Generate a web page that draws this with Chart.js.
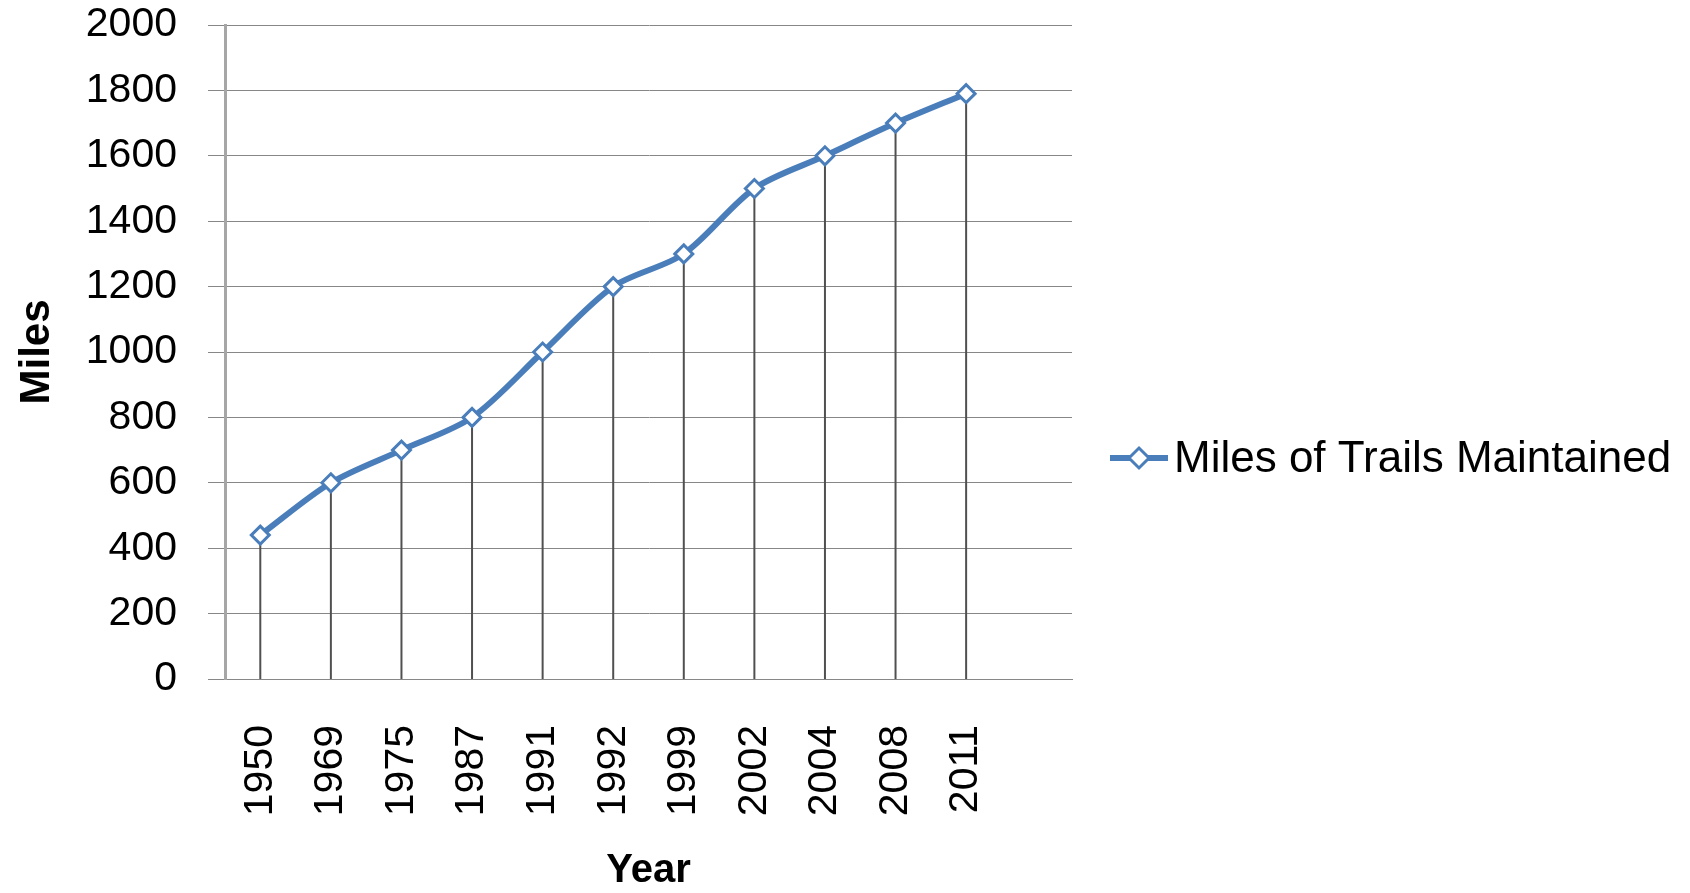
<!DOCTYPE html>
<html lang="en">
<head>
    <meta charset="UTF-8">
    <title>Miles of Trails Maintained</title>
    <style>
        html, body { margin: 0; padding: 0; background: #fff; }
        #chartFrame { width: 1690px; height: 893px; }
    </style>
</head>
<body>
    <div id="chartFrame">
        <canvas id="chart" width="1690" height="893"></canvas>
    </div>

    <script src="https://cdn.jsdelivr.net/npm/chart.js"></script>
    <script>
        // data
        const years = ['1950', '1969', '1975', '1987', '1991', '1992', '1999', '2002', '2004', '2008', '2011'];
        const miles = [440, 600, 700, 800, 1000, 1200, 1300, 1500, 1600, 1700, 1790];
        const yMin = 0;
        const yMax = 2000;
        const yStep = 200;
        const seriesName = 'Miles of Trails Maintained';

        const blue = '#4a7ebb';
        const fontFamily = "'Liberation Sans', Arial, sans-serif";

        function drawDiamond(c, cx, cy, r) {
            c.beginPath();
            c.moveTo(cx - r, cy);
            c.lineTo(cx, cy - r);
            c.lineTo(cx + r, cy);
            c.lineTo(cx, cy + r);
            c.closePath();
            c.fillStyle = '#fff';
            c.fill();
            c.stroke();
        }

        // vertical drop lines from each point down to the zero line
        const dropLines = {
            id: 'dropLines',
            beforeDatasetsDraw(chart) {
                const ctx = chart.ctx;
                const meta = chart.getDatasetMeta(0);
                const base = chart.scales.y.getPixelForValue(0);
                ctx.save();
                ctx.strokeStyle = '#505050';
                ctx.lineWidth = 2;
                meta.data.forEach(function (pt) {
                    ctx.beginPath();
                    ctx.moveTo(pt.x, pt.y);
                    ctx.lineTo(pt.x, base);
                    ctx.stroke();
                });
                ctx.restore();
            }
        };

        // legend to the right of the plot (line + diamond marker, then the series name)
        const sideLegend = {
            id: 'sideLegend',
            afterDraw(chart) {
                const ctx = chart.ctx;
                const area = chart.chartArea;
                const ds = chart.data.datasets[0];
                const x0 = area.right + 38;
                const y = 458;
                ctx.save();
                ctx.strokeStyle = ds.borderColor;
                ctx.lineWidth = 6;
                ctx.beginPath();
                ctx.moveTo(x0, y);
                ctx.lineTo(x0 + 58, y);
                ctx.stroke();
                ctx.lineWidth = 3;
                drawDiamond(ctx, x0 + 29, y, 10);
                ctx.fillStyle = '#000';
                ctx.font = '44px ' + fontFamily;
                ctx.textAlign = 'left';
                ctx.textBaseline = 'alphabetic';
                ctx.fillText(ds.label, x0 + 64, 472);
                ctx.restore();
            }
        };

        const ctx = document.getElementById('chart').getContext('2d');
        const myChart = new Chart(ctx, {
            type: 'line',
            data: {
                labels: years.concat(['']),   // one empty slot on the right, as in the original
                datasets: [{
                    label: seriesName,
                    data: miles,
                    borderColor: blue,
                    backgroundColor: blue,
                    borderWidth: 6,
                    tension: 0.3,
                    fill: false,
                    pointStyle: 'rectRot',
                    pointRadius: 9,
                    pointBorderWidth: 3,
                    pointBackgroundColor: '#fff',
                    pointBorderColor: blue
                }]
            },
            options: {
                responsive: false,
                animation: false,
                devicePixelRatio: 1,
                layout: {
                    padding: { left: 0, top: 0, right: 618, bottom: 0 }
                },
                scales: {
                    x: {
                        type: 'category',
                        offset: true,
                        grid: { display: false, drawTicks: false },
                        border: { display: true, color: '#878787', width: 1 },
                        ticks: {
                            autoSkip: false,
                            minRotation: 90,
                            maxRotation: 90,
                            padding: 46,
                            color: '#000',
                            font: { family: fontFamily, size: 41 }
                        },
                        title: {
                            display: true,
                            text: 'Year',
                            color: '#000',
                            font: { family: fontFamily, size: 40, weight: 'bold', lineHeight: 1 },
                            padding: { top: 34, bottom: 2 }
                        },
                        afterFit(scale) { scale.height = 214; }
                    },
                    y: {
                        min: yMin,
                        max: yMax,
                        grid: { color: '#878787', lineWidth: 1, drawTicks: true, tickLength: 17 },
                        border: { display: true, color: '#a6a6a6', width: 3 },
                        ticks: {
                            stepSize: yStep,
                            padding: 31,
                            color: '#000',
                            font: { family: fontFamily, size: 41 },
                            callback: function (value) { return String(value); }
                        },
                        title: {
                            display: true,
                            text: 'Miles',
                            color: '#000',
                            font: { family: fontFamily, size: 42, weight: 'bold', lineHeight: 1 },
                            padding: { top: 16, bottom: 28 }
                        },
                        afterFit(scale) {
                            scale.width = 225;
                            scale.paddingTop = 25;
                            scale.paddingBottom = 25;
                        }
                    }
                },
                plugins: {
                    legend: { display: false },
                    tooltip: { enabled: false }
                }
            },
            plugins: [dropLines, sideLegend]
        });
    </script>
</body>
</html>
